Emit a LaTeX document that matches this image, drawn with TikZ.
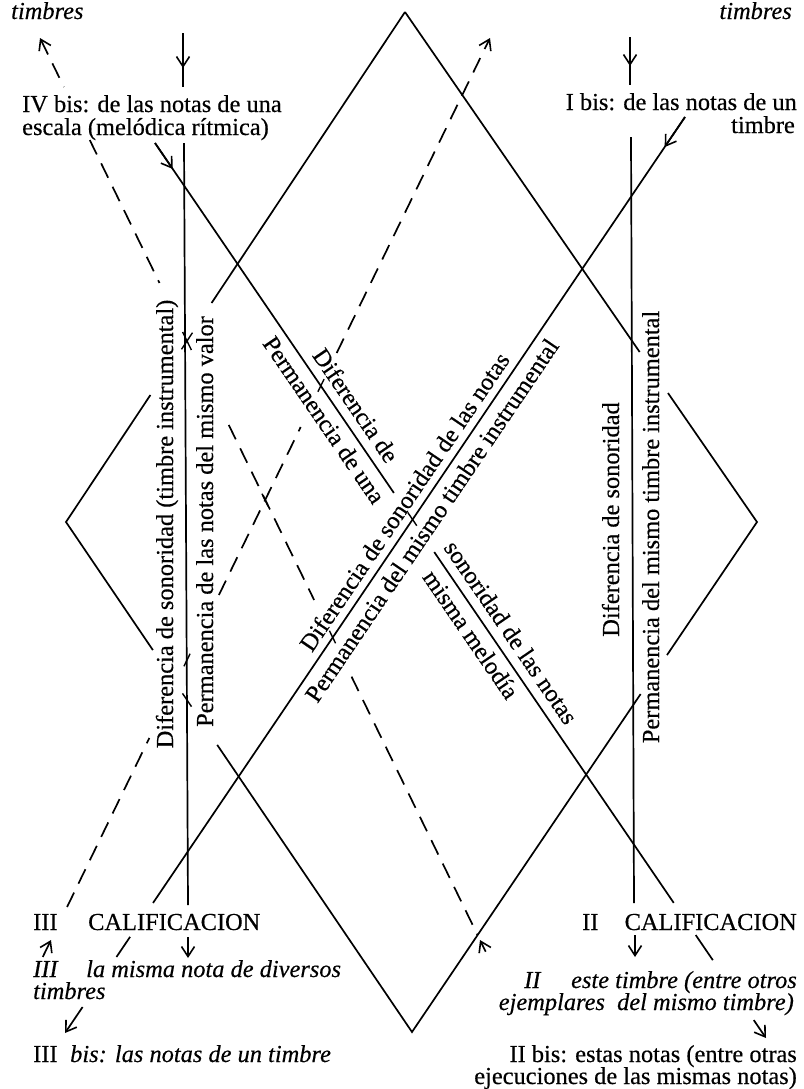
\documentclass[tikz,border=0pt]{standalone}
\usepackage{fontspec}
\setmainfont{Liberation Serif}[FakeBold=0.4]
\usetikzlibrary{arrows.meta,calc}
\begin{document}
\begin{tikzpicture}[x=1bp,y=-1bp,
  ln/.style={line width=1.7bp},
  dsh/.style={line width=1.7bp, dash pattern=on 16bp off 10bp},
  tk/.style={line width=1.4bp},
  barb/.style={-{Straight Barb[length=10bp,width=13bp,line width=1.6bp]}},
  rbarb/.style={{Straight Barb[length=10bp,width=13bp,line width=1.6bp]}-},
  txt/.style={inner sep=0pt, font=\fontsize{24.4bp}{23bp}\selectfont},
  itx/.style={inner sep=0pt, font=\fontsize{24.4bp}{23bp}\selectfont\itshape},
]
\useasboundingbox (0,0) rectangle (804,1089);

% big diamond
\coordinate (T) at (405,12);
\coordinate (L) at (66,522);
\coordinate (Bo) at (412,1032);
\coordinate (R) at (757,522);
\draw[ln] (T) -- ($(T)!0.5706!(L)$);
\draw[ln] ($(T)!0.751!(L)$) -- (L) -- ($(L)!0.251!(Bo)$);
\draw[ln] ($(L)!0.437!(Bo)$) -- (Bo) -- ($(Bo)!0.6627!(R)$);
\draw[ln] ($(Bo)!0.739!(R)$) -- (R) -- ($(R)!0.2529!(T)$);
\draw[ln] ($(R)!0.3333!(T)$) -- (T);

% verticals
\coordinate (V1t) at (184,143); \coordinate (V1b) at (188,905);
\coordinate (V1at) at (183,33); \coordinate (V1am) at (183,68); \coordinate (V1ae) at (183,87);
\coordinate (V1bs) at (188,937); \coordinate (V1be) at (188,958);
\draw[ln] (V1t) -- (V1b);
\draw[ln] (V1at) -- (V1ae);
\draw[ln,barb] (V1at) -- (V1am);
\draw[ln,barb] (V1bs) -- (V1be);
\coordinate (V2t) at (631,137); \coordinate (V2b) at (634,903);
\coordinate (V2at) at (630,37); \coordinate (V2am) at (630,66); \coordinate (V2ae) at (630,85);
\coordinate (V2bs) at (635,935); \coordinate (V2be) at (635,957);
\draw[ln] (V2t) -- (V2b);
\draw[ln] (V2at) -- (V2ae);
\draw[ln,barb] (V2at) -- (V2am);
\draw[ln,barb] (V2bs) -- (V2be);

% long diagonal C
\coordinate (Ct) at (685,117); \coordinate (Ce) at (65,1033);
\draw[ln] (Ct) -- ($(Ct)!0.858!(Ce)$);
\draw[ln,barb] (Ct) -- ($(Ct)!0.0328!(Ce)$);
\draw[ln] ($(Ct)!0.895!(Ce)$) -- ($(Ct)!0.917!(Ce)$);
\draw[ln,barb] ($(Ct)!0.9716!(Ce)$) -- (Ce);

% long diagonal D
\coordinate (Dt) at (155,143); \coordinate (De) at (766,1038);
\draw[ln] (Dt) -- ($(Dt)!0.391!(De)$);
\draw[ln] ($(Dt)!0.457!(De)$) -- ($(Dt)!0.849!(De)$);
\draw[ln,barb] (Dt) -- ($(Dt)!0.029!(De)$);
\draw[ln] ($(Dt)!0.885!(De)$) -- ($(Dt)!0.913!(De)$);
\draw[ln,barb] ($(Dt)!0.98!(De)$) -- (De);

% dashed E1
\coordinate (E1t) at (40,38); \coordinate (E1b) at (480,940);
\draw[dsh,rbarb] (E1t) -- ($(E1t)!0.0543!(E1b)$);
\draw[dsh] ($(E1t)!0.1131!(E1b)$) -- ($(E1t)!0.2716!(E1b)$);
\draw[dsh] ($(E1t)!0.429!(E1b)$) -- ($(E1t)!0.623!(E1b)$);
\draw[dsh] ($(E1t)!0.708!(E1b)$) -- ($(E1t)!0.9945!(E1b)$);
\draw[ln,barb] ($(E1t)!1.013!(E1b)$) -- (E1b);

% dashed E2
\coordinate (E2b) at (51,940); \coordinate (E2t) at (490,38);
\draw[ln,barb] ($(E2b)!-0.0188!(E2t)$) -- (E2b);
\draw[dsh] ($(E2b)!0.0366!(E2t)$) -- ($(E2b)!0.224!(E2t)$);
\draw[dsh] ($(E2b)!0.3825!(E2t)$) -- ($(E2b)!0.5687!(E2t)$);
\draw[dsh,barb] ($(E2b)!0.6508!(E2t)$) -- (E2t);

% crossing ticks
\coordinate (X1) at (187,341);
\draw[tk] ($(X1)+(-5.5,8.3)$) -- ($(X1)+(5.5,-8.3)$);
\draw[tk] ($(X1)+(-4.4,-9)$) -- ($(X1)+(4.4,9)$);
\coordinate (X2) at (187,660);
\draw[tk] ($(X2)+(-3.1,6.3)$) -- ($(X2)+(3.1,-6.3)$);
\coordinate (X3) at (187,700);
\draw[tk] ($(X3)+(-4.5,-6.6)$) -- ($(X3)+(4.5,6.6)$);
\coordinate (X4) at (321,385.4);
\draw[tk] ($(X4)+(-3.1,6.3)$) -- ($(X4)+(3.1,-6.3)$);
\coordinate (X5) at (265,500);
\draw[tk] ($(X5)+(-3.1,-6.3)$) -- ($(X5)+(3.1,6.3)$);
\coordinate (X6) at (412.3,519.1);
\draw[tk] ($(X6)+(-4.5,-6.6)$) -- ($(X6)+(4.5,6.6)$);
\coordinate (X7) at (332.5,637);
\draw[tk] ($(X7)+(-3.1,-6.3)$) -- ($(X7)+(3.1,6.3)$);

% texts
\node[itx, anchor=base west] (tTL) at (11,19) {timbres};
\node[itx, anchor=base east] (tTR) at (792,19) {timbres};
\node[txt, anchor=base west] (ivb1) at (22,112) {IV bis: de las notas de una};
\node[txt, anchor=base west] (ivb2) at (22,135) {escala (melódica rítmica)};
\node[txt, anchor=base east] (ib1) at (797,110) {I bis: de las notas de un};
\node[txt, anchor=base east] (ib2) at (795,133) {timbre};
\node[txt, anchor=base west] (c3n) at (33,930) {III};
\node[txt, anchor=base west] (c3) at (88,930) {CALIFICACION};
\node[itx, anchor=base west] (q3n) at (33,977) {III};
\node[itx, anchor=base west] (q3) at (86,977) {la misma nota de diversos};
\node[itx, anchor=base west] (q3b) at (33,999) {timbres};
\node[txt, anchor=base west] (b3n) at (33,1062) {III};
\node[itx, anchor=base west] (b3) at (70,1062) {bis: las notas de un timbre};
\node[txt, anchor=base west] (c2n) at (582,930) {II};
\node[txt, anchor=base east] (c2) at (797,930) {CALIFICACION};
\node[itx, anchor=base west] (q2n) at (524,988) {II};
\node[itx, anchor=base east] (q2) at (797,988) {este timbre (entre otros};
\node[itx, anchor=base east] (q2b) at (794,1010) {ejemplares\ \ del mismo timbre)};
\node[txt, anchor=base east] (b2) at (797,1062) {II bis: estas notas (entre otras};
\node[txt, anchor=base east] (b2b) at (797,1084) {ejecuciones de las mismas notas)};

\node[txt, rotate=90, anchor=base] (lc1) at (173,524) {Diferencia de sonoridad (timbre instrumental)};
\node[txt, rotate=90, anchor=base] (lc2) at (213,521.5) {Permanencia de las notas del mismo valor};
\node[txt, rotate=90, anchor=base] (rc1) at (619,519.5) {Diferencia de sonoridad};
\node[txt, rotate=90, anchor=base] (rc2) at (659,527) {Permanencia del mismo timbre instrumental};

\node[txt, rotate=55.9, anchor=base] (dc1) at (411.3,506.5) {Diferencia de sonoridad de las notas};
\node[txt, rotate=55.9, anchor=base] (dc2) at (438.6,525.0) {Permanencia del mismo timbre instrumental};
\node[txt, rotate=-55.6, anchor=base] (dd1) at (349.0,410.0) {Diferencia de};
\node[txt, rotate=-55.6, anchor=base] (dd2) at (317.4,424.5) {Permanencia de una};
\node[txt, rotate=-55.6, anchor=base] (dd3) at (504.2,637.0) {sonoridad de las notas};
\node[txt, rotate=-55.6, anchor=base] (dd4) at (464.2,639.1) {misma melodía};
\end{tikzpicture}
\end{document}
